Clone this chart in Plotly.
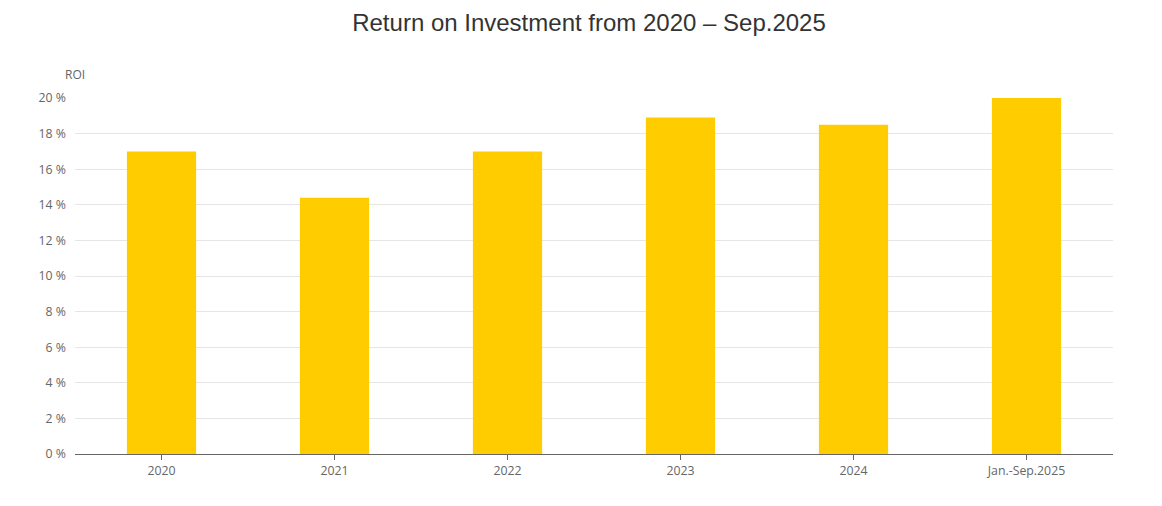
import plotly.graph_objects as go

categories = ["2020", "2021", "2022", "2023", "2024", "Jan.-Sep.2025"]
roi_values = [17.0, 14.4, 17.0, 18.9, 18.5, 20.0]
y_ticks = [0, 2, 4, 6, 8, 10, 12, 14, 16, 18, 20]
y_tick_labels = [f"{v} %" for v in y_ticks]

fig = go.Figure()
fig.add_trace(go.Bar(
    x=categories, y=roi_values,
    marker=dict(color="#ffcc00", line=dict(width=0)),
    width=0.4,
    hoverinfo="x+y",
))

fig.update_layout(
    width=1162, height=506,
    paper_bgcolor="white", plot_bgcolor="white",
    margin=dict(l=67, r=57, t=90, b=60),
    title=dict(text="Return on Investment from 2020 – Sep.2025",
               x=0.5, xanchor="center", y=1.0, yanchor="top",
               pad=dict(t=6),
               font=dict(family="Liberation Sans, Arial", size=24, color="#333333")),
    showlegend=False,
    font=dict(family="Open Sans, Noto Sans", size=12, color="#666666"),
    xaxis=dict(showgrid=False, showline=True, linecolor="#666666", linewidth=1,
               ticks="outside", ticklen=5, tickcolor="#666666",
               tickfont=dict(size=12.3, color="#666666")),
    yaxis=dict(range=[0, 20], tickvals=y_ticks, ticktext=y_tick_labels,
               showgrid=True, gridcolor="#e6e6e6", gridwidth=1,
               zeroline=False, showline=False,
               tickfont=dict(size=12.3, color="#666666"), ticklabelstandoff=8),
    annotations=[dict(text="ROI", xref="paper", yref="paper", x=-0.012, y=1.065,
                      xanchor="left", yanchor="middle", showarrow=False,
                      font=dict(size=12, color="#666666"))],
)

fig.write_html("out.html")
